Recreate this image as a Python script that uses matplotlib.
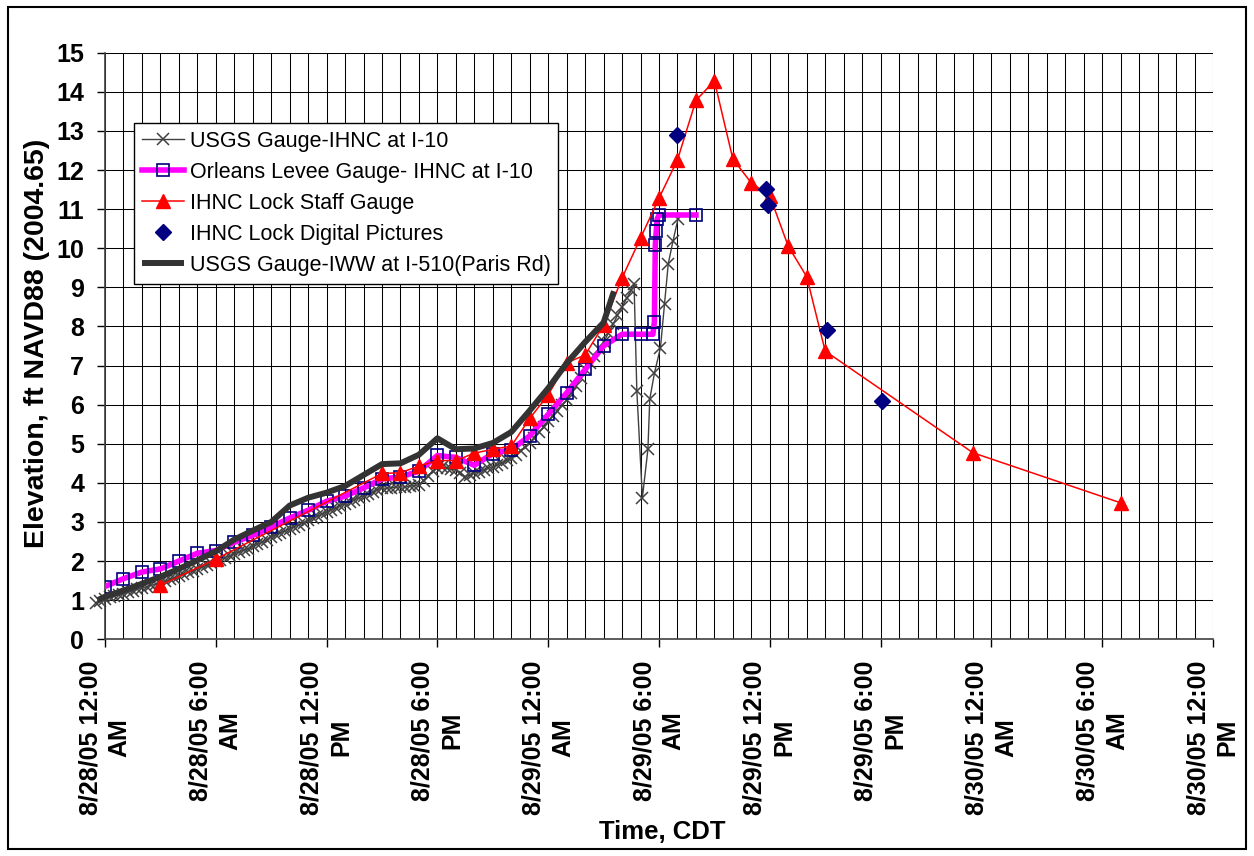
import numpy as np
import matplotlib.pyplot as plt
from matplotlib.patches import Rectangle

plt.rcParams['font.family'] = ['Liberation Sans', 'DejaVu Sans']

# time axis: hours after 8/28/05 12:00 AM CDT
tick_hours = [0, 6, 12, 18, 24, 30, 36, 42, 48, 54, 60]
tick_labels = ["8/28/05 12:00\nAM", "8/28/05 6:00\nAM", "8/28/05 12:00\nPM",
               "8/28/05 6:00\nPM", "8/29/05 12:00\nAM", "8/29/05 6:00\nAM",
               "8/29/05 12:00\nPM", "8/29/05 6:00\nPM", "8/30/05 12:00\nAM",
               "8/30/05 6:00\nAM", "8/30/05 12:00\nPM"]

# USGS Gauge-IHNC at I-10 (15 min readings, then the spike)
usgs_ihnc_t = list(np.arange(-2, 115) / 4) + [28.65, 28.8, 29.1, 29.4, 29.5, 29.75,
                                              30.08, 30.3, 30.5, 30.76, 31.03]
usgs_ihnc_v = [0.93, 0.98,
               1.03, 1.07, 1.10, 1.14, 1.17, 1.20, 1.24, 1.28,
               1.31, 1.34, 1.38, 1.41, 1.44, 1.48, 1.53, 1.57,
               1.62, 1.66, 1.71, 1.75, 1.80, 1.85, 1.89, 1.94,
               1.99, 2.04, 2.09, 2.13, 2.18, 2.23, 2.28, 2.32,
               2.38, 2.43, 2.48, 2.55, 2.62, 2.67, 2.72, 2.77,
               2.83, 2.88, 2.93, 2.98, 3.04, 3.10, 3.15, 3.20,
               3.26, 3.31, 3.36, 3.42, 3.47, 3.52, 3.57, 3.62,
               3.67, 3.72, 3.77, 3.82, 3.87, 3.86, 3.88, 3.89,
               3.90, 3.89, 3.92, 3.93, 3.95, 4.05, 4.18, 4.30,
               4.38, 4.40, 4.38, 4.35, 4.33, 4.25, 4.16, 4.20,
               4.25, 4.28, 4.33, 4.37, 4.41, 4.46, 4.52, 4.58,
               4.64, 4.72, 4.82, 4.92, 5.02, 5.15, 5.29, 5.43,
               5.57, 5.70, 5.84, 5.98, 6.12, 6.30, 6.48, 6.68,
               6.90, 7.07, 7.25, 7.42, 7.60, 7.82, 8.05, 8.28,
               8.50, 8.72, 8.92,
               9.08, 6.35, 3.62, 4.86, 6.14, 6.80, 7.46, 8.57, 9.60, 10.19, 10.75]

# Orleans Levee Gauge- IHNC at I-10
orleans_t = [0, 1, 2, 3, 4, 5, 6, 7, 8, 9, 10, 11, 12, 13, 14, 15, 16, 17, 18, 19,
             20, 21, 22, 23, 24, 25, 26, 27, 28, 29, 29.67, 29.75, 29.8, 29.85,
             29.9, 30, 32]
orleans_v = [1.35, 1.55, 1.72, 1.80, 2.00, 2.20, 2.27, 2.48, 2.66, 2.87, 3.10, 3.30,
             3.53, 3.66, 3.87, 4.10, 4.15, 4.30, 4.70, 4.65, 4.45, 4.75, 4.85, 5.20,
             5.75, 6.30, 6.90, 7.50, 7.80, 7.80, 7.80, 8.12, 10.08, 10.43, 10.75,
             10.85, 10.85]

# IHNC Lock Staff Gauge
staff_t = [3, 6, 15, 16, 17, 18, 19, 20, 21, 22, 23, 24, 25, 26, 27, 28, 29, 30, 31,
           32, 33, 34, 35, 36, 37, 38, 39, 47, 55]
staff_v = [1.38, 2.05, 4.24, 4.26, 4.43, 4.57, 4.57, 4.76, 4.86, 4.94, 5.65, 6.25,
           7.07, 7.27, 8.04, 9.24, 10.26, 11.28, 12.26, 13.78, 14.28, 12.28, 11.67,
           11.34, 10.05, 9.27, 7.37, 4.77, 3.49]

# IHNC Lock Digital Pictures
photo_t = [31.0, 35.8, 35.9, 39.1, 42.05]
photo_v = [12.89, 11.51, 11.10, 7.91, 6.10]

# USGS Gauge-IWW at I-510 (Paris Rd)
iww_t = [-0.4, 0, 1, 2, 3, 4, 5, 6, 7, 8, 9, 10, 11, 12, 13, 14, 15, 16, 17, 18,
         19, 20, 21, 22, 23, 24, 25, 26, 27, 27.56]
iww_v = [1.00, 1.09, 1.25, 1.42, 1.60, 1.80, 2.02, 2.25, 2.55, 2.78, 3.00, 3.42,
         3.62, 3.75, 3.92, 4.20, 4.48, 4.50, 4.72, 5.14, 4.86, 4.88, 5.02, 5.30,
         5.85, 6.42, 7.06, 7.60, 8.10, 8.90]

fig = plt.figure(figsize=(12.54, 8.56), dpi=100)
ax = fig.add_axes([105 / 1254, 1 - 639.3 / 856, 1108 / 1254, 586.6 / 856])

ax.plot(usgs_ihnc_t, usgs_ihnc_v, color='#404040', lw=1.0, marker='x', ms=8,
        mew=1.1, label='USGS Gauge-IHNC at I-10', clip_on=False, zorder=3)
ax.plot(orleans_t, orleans_v, color='#FF00FF', lw=4, marker='s', ms=9,
        mfc='none', mec='#000080', mew=1.2, label='Orleans Levee Gauge- IHNC at I-10',
        zorder=4)
ax.plot(staff_t, staff_v, color='red', lw=1.1, marker='^', ms=10,
        label='IHNC Lock Staff Gauge', zorder=5)
ax.plot(photo_t, photo_v, ls='none', marker='D', ms=8, color='#000080',
        label='IHNC Lock Digital Pictures', zorder=6)
ax.plot(iww_t, iww_v, color='#333333', lw=4.3, solid_capstyle='butt',
        label='USGS Gauge-IWW at I-510(Paris Rd)', clip_on=False, zorder=7)

ax.set_xlim(0, 60)
ax.set_ylim(0, 15)
ax.set_xticks(tick_hours)
ax.set_xticks(range(0, 61), minor=True)
ax.set_yticks(range(0, 16))
ax.set_xticklabels(tick_labels, rotation=90, ha='center', va='top',
                   multialignment='center', linespacing=1.3)
ax.grid(True, which='both', color='black', lw=0.75)
ax.set_axisbelow(True)
ax.tick_params(axis='both', which='major', direction='out', length=6, width=1,
               labelsize=18, pad=9)
ax.tick_params(axis='x', which='minor', length=0)
for lab in ax.get_xticklabels() + ax.get_yticklabels():
    lab.set_fontweight('bold')

for s in ['top', 'right']:
    ax.spines[s].set_visible(False)
for s in ['left', 'bottom']:
    ax.spines[s].set_color('#404040')
    ax.spines[s].set_linewidth(1.2)

ax.set_xlabel('Time, CDT', fontsize=18.5, fontweight='bold')
ax.set_ylabel('Elevation, ft NAVD88 (2004.65)', fontsize=20.5, fontweight='bold')
ax.xaxis.set_label_coords(0.503, -0.308)
ax.yaxis.set_label_coords(-0.05, 0.505)

leg = ax.legend(loc='upper left', bbox_to_anchor=(134 / 1254, 1 - 123 / 856),
                bbox_transform=fig.transFigure, fontsize=15.5, frameon=True,
                fancybox=False, framealpha=1, edgecolor='black', borderpad=0.35,
                labelspacing=0.47, handlelength=1.95, handletextpad=0.3,
                borderaxespad=0)
leg.get_frame().set_linewidth(1.0)
leg.set_zorder(10)

fig.patches.append(Rectangle((8 / 1254, 7 / 856), 1238 / 1254, 842 / 856,
                             transform=fig.transFigure, fill=False,
                             edgecolor='black', lw=1.5))

fig.savefig('out.png', dpi=100)
